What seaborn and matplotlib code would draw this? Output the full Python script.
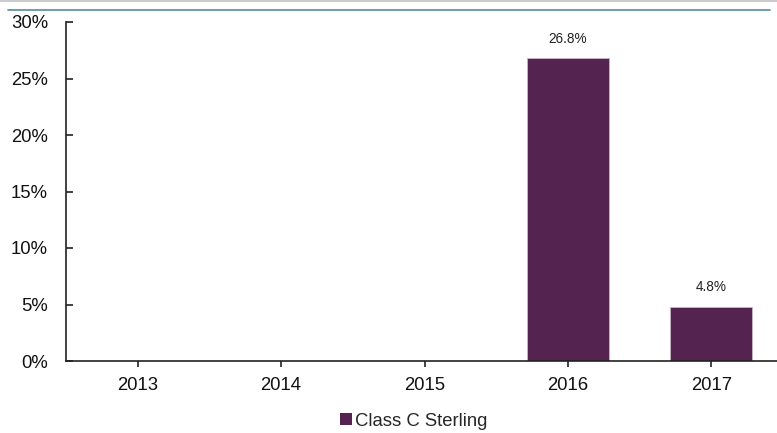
import pandas as pd
import seaborn as sns
import matplotlib.pyplot as plt
import matplotlib.ticker as mtick
from matplotlib.lines import Line2D
from matplotlib.patches import Patch

# data
years = ['2013', '2014', '2015', '2016', '2017']
returns = [0.0, 0.0, 0.0, 26.8, 4.8]
series_name = 'Class C Sterling'

df = pd.DataFrame({'Year': years, 'Return': returns})

sns.set_style("white")
plt.rcParams['font.family'] = ['Liberation Sans', 'DejaVu Sans']

fig = plt.figure(figsize=(7.77, 4.33), dpi=100)
ax = fig.add_axes([66/777, 1 - 361/433, (783 - 66)/777, (361 - 22)/433])

bar_color = '#55234f'
sns.barplot(data=df, x='Year', y='Return', color=bar_color, width=0.57,
            edgecolor='#c9b6c6', linewidth=0.6, saturation=1, ax=ax)

ax.set_ylim(0, 30)
ax.set_xlim(-0.5, 4.5)
ax.yaxis.set_major_locator(mtick.MultipleLocator(5))
ax.yaxis.set_major_formatter(mtick.FuncFormatter(lambda v, p: '{:.0f}%'.format(v)))
ax.set(xlabel='', ylabel='')

for s in ['top', 'right']:
    ax.spines[s].set_visible(False)
for s in ['left', 'bottom']:
    ax.spines[s].set_color('#222222')
    ax.spines[s].set_linewidth(1.2)

ax.tick_params(axis='y', direction='in', length=5, width=1.2, color='#222222',
               labelsize=13.3, pad=13, labelcolor='#111111')
ax.tick_params(axis='x', direction='out', length=4, width=1.2, color='#222222',
               labelsize=13.3, pad=7.5, labelcolor='#111111')
ax.tick_params(left=True, bottom=True)

# data labels above the non-zero bars
for p, v in zip(ax.patches, returns):
    if v > 0:
        ax.annotate('{:.1f}%'.format(v),
                    (p.get_x() + p.get_width() / 2, p.get_height()),
                    xytext=(0, 9), textcoords='offset points',
                    ha='center', va='bottom', fontsize=9.8, color='#222222')

# legend at the bottom
handle = Patch(facecolor=bar_color, edgecolor='none')
fig.legend([handle], [series_name], loc='center', bbox_to_anchor=(414/777, 1 - 421/433),
           frameon=False, fontsize=13.3, handlelength=0.65, handleheight=0.65,
           handletextpad=0.15)

# thin rule across the top
fig.add_artist(Line2D([8/777, 770/777], [1 - 10/433, 1 - 10/433], color='#5a8a96',
                      linewidth=1.2, transform=fig.transFigure))
fig.add_artist(Line2D([0, 1], [1 - 0.5/433, 1 - 0.5/433], color='#cccccc',
                      linewidth=1.5, transform=fig.transFigure))

plt.savefig('out.png', dpi=100)
